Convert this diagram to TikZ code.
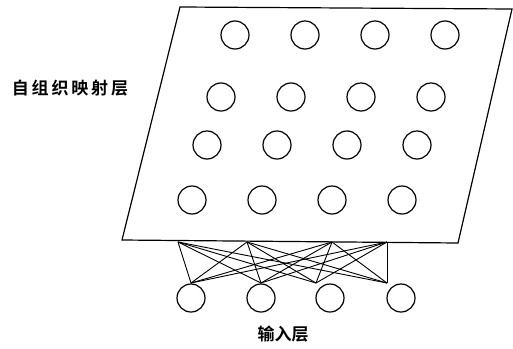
\documentclass[tikz,border=0pt]{standalone}
\usepackage{fontspec}
\newfontfamily\cjk{Noto Sans CJK SC}[BoldFont={Noto Sans CJK SC Bold}]
\begin{document}
\begin{tikzpicture}[x=1pt,y=-1pt,
  neuron/.style={circle,draw,line width=1.2pt,minimum size=28pt,inner sep=0pt},
  edge/.style={line width=0.9pt},
  frame/.style={line width=1.2pt,line join=miter},
  lbl/.style={font=\cjk\bfseries\fontsize{17}{17}\selectfont,inner sep=0pt}]
\useasboundingbox (0,0) rectangle (513,348);
% map layer plane
\coordinate (TL) at (180,7);
\coordinate (TR) at (512,9);
\coordinate (BR) at (458,243);
\coordinate (BL) at (122,240);
\draw[frame] (TL) -- (TR) -- (BR) -- (BL) -- cycle;
% map neurons
\foreach \r/\y/\x in {1/35/235,2/97/221,3/145/207,4/200/192}{
  \foreach \c in {0,1,2,3}{
    \node[neuron] (m\r\c) at ({\x+70*\c},\y) {};
  }
}
% input neurons
\foreach \c/\x in {1/191,2/261,3/330,4/401}{
  \node[neuron] (in\c) at (\x,298) {};
}
% connection points
\coordinate (t1) at (178,242);
\coordinate (t2) at (247,242);
\coordinate (t3) at (332,242);
\coordinate (t4) at (387,242);
\coordinate (b1) at (191,283);
\coordinate (b2) at (261,283);
\coordinate (b3) at (316,283);
\coordinate (b4) at (387,283);
\foreach \i in {1,2,3,4}{
  \foreach \j in {1,2,3,4}{
    \draw[edge] (t\i) -- (b\j);
  }
}
% labels
\node[lbl] (maplbl) at (70,88) {自\,组\,织\,映\,射\,层};
\node[lbl] (inlbl) at (283,334) {输入层};
\end{tikzpicture}
\end{document}
